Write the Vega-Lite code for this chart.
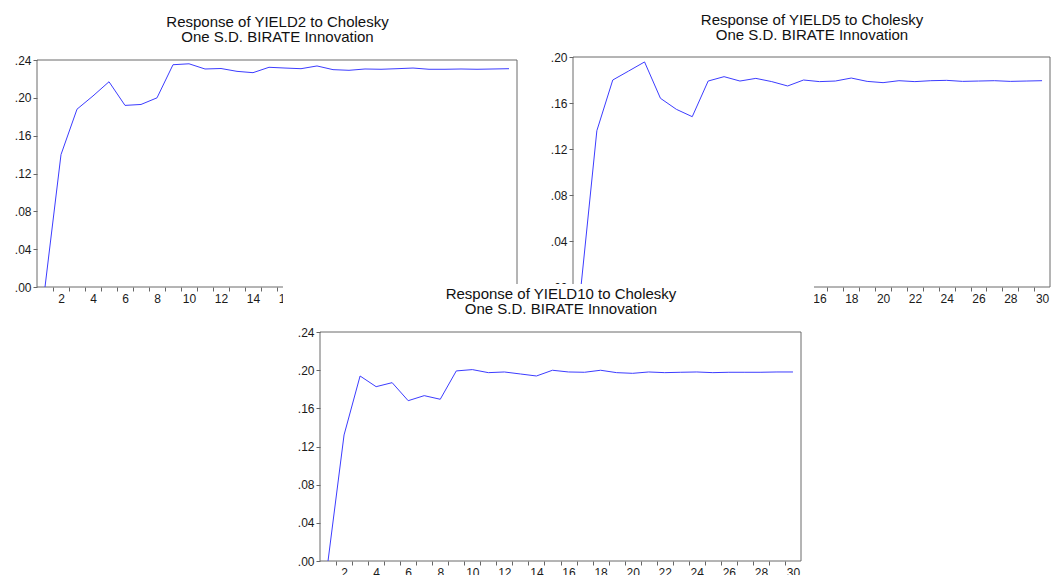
{
  "$schema": "https://vega.github.io/schema/vega-lite/v6.json",
  "width": 1051,
  "height": 575,
  "autosize": {"type": "none"},
  "padding": 0,
  "background": "white",
  "config": {
    "view": {"stroke": null},
    "font": "Liberation Sans",
    "axis": {
      "labelFont": "Liberation Sans",
      "labelFontSize": 12,
      "labelColor": "#1a1a1a",
      "tickColor": "#666666",
      "tickSize": 4,
      "tickWidth": 1,
      "domain": false,
      "grid": false,
      "labelPadding": 2,
      "labelFlush": false,
      "labelOverlap": false,
      "labelBound": false,
      "titleFont": "Liberation Sans",
      "titleFontSize": 15,
      "titleFontWeight": "normal",
      "titleColor": "#111111",
      "titleLineHeight": 15
    }
  },
  "datasets": {
    "yield2": [
      {"period": 1, "response": 0.0}, {"period": 2, "response": 0.140}, {"period": 3, "response": 0.188},
      {"period": 4, "response": 0.202}, {"period": 5, "response": 0.217}, {"period": 6, "response": 0.192},
      {"period": 7, "response": 0.193}, {"period": 8, "response": 0.200}, {"period": 9, "response": 0.235},
      {"period": 10, "response": 0.236}, {"period": 11, "response": 0.2305}, {"period": 12, "response": 0.231},
      {"period": 13, "response": 0.228}, {"period": 14, "response": 0.2266}, {"period": 15, "response": 0.2323},
      {"period": 16, "response": 0.2315}, {"period": 17, "response": 0.2308}, {"period": 18, "response": 0.2337},
      {"period": 19, "response": 0.2298}, {"period": 20, "response": 0.2291}, {"period": 21, "response": 0.2305},
      {"period": 22, "response": 0.2302}, {"period": 23, "response": 0.2308}, {"period": 24, "response": 0.2315},
      {"period": 25, "response": 0.2302}, {"period": 26, "response": 0.2302}, {"period": 27, "response": 0.2305},
      {"period": 28, "response": 0.2302}, {"period": 29, "response": 0.2305}, {"period": 30, "response": 0.2308}
    ],
    "yield5": [
      {"period": 1, "response": 0.0}, {"period": 2, "response": 0.1359}, {"period": 3, "response": 0.180},
      {"period": 4, "response": 0.1878}, {"period": 5, "response": 0.1957}, {"period": 6, "response": 0.1641},
      {"period": 7, "response": 0.1545}, {"period": 8, "response": 0.1481}, {"period": 9, "response": 0.1791},
      {"period": 10, "response": 0.1829}, {"period": 11, "response": 0.1791}, {"period": 12, "response": 0.1814},
      {"period": 13, "response": 0.1786}, {"period": 14, "response": 0.1748}, {"period": 15, "response": 0.180},
      {"period": 16, "response": 0.1786}, {"period": 17, "response": 0.1791}, {"period": 18, "response": 0.1817},
      {"period": 19, "response": 0.1788}, {"period": 20, "response": 0.1777}, {"period": 21, "response": 0.1794},
      {"period": 22, "response": 0.1786}, {"period": 23, "response": 0.1794}, {"period": 24, "response": 0.1797},
      {"period": 25, "response": 0.1788}, {"period": 26, "response": 0.1791}, {"period": 27, "response": 0.1794},
      {"period": 28, "response": 0.1788}, {"period": 29, "response": 0.1791}, {"period": 30, "response": 0.1794}
    ],
    "yield10": [
      {"period": 1, "response": 0.0}, {"period": 2, "response": 0.1321}, {"period": 3, "response": 0.1939},
      {"period": 4, "response": 0.1827}, {"period": 5, "response": 0.1869}, {"period": 6, "response": 0.1680},
      {"period": 7, "response": 0.1733}, {"period": 8, "response": 0.1695}, {"period": 9, "response": 0.1992},
      {"period": 10, "response": 0.2006}, {"period": 11, "response": 0.1974}, {"period": 12, "response": 0.1981},
      {"period": 13, "response": 0.1960}, {"period": 14, "response": 0.1939}, {"period": 15, "response": 0.1999},
      {"period": 16, "response": 0.1981}, {"period": 17, "response": 0.1978}, {"period": 18, "response": 0.1999},
      {"period": 19, "response": 0.1974}, {"period": 20, "response": 0.1967}, {"period": 21, "response": 0.1981},
      {"period": 22, "response": 0.1974}, {"period": 23, "response": 0.1978}, {"period": 24, "response": 0.1981},
      {"period": 25, "response": 0.1974}, {"period": 26, "response": 0.1978}, {"period": 27, "response": 0.1978},
      {"period": 28, "response": 0.1978}, {"period": 29, "response": 0.1981}, {"period": 30, "response": 0.1981}
    ]
  },
  "layer": [
    {
      "data": {"name": "yield2"},
      "layer": [
        {
          "data": {"values": [{}]},
          "mark": {"type": "rect", "filled": false, "color": "#6a6a6a", "strokeWidth": 1},
          "encoding": {
            "x": {"datum": 0.5, "type": "quantitative",
              "scale": {"domain": [0.5, 30.5], "range": [37, 517], "nice": false, "zero": false},
              "axis": {"orient": "top", "offset": -60, "labels": false, "ticks": false, "domain": false, "zindex": 0,
                "title": ["Response of YIELD2 to Cholesky", "One S.D. BIRATE Innovation"],
                "titleBaseline": "alphabetic", "titleY": -34}},
            "x2": {"datum": 30.5},
            "y": {"datum": 0, "type": "quantitative",
              "scale": {"domain": [0, 0.24], "range": [287, 60], "nice": false, "zero": false},
              "axis": null},
            "y2": {"datum": 0.24}
          }
        },
        {
          "mark": {"type": "line", "color": "#3c3cff", "strokeWidth": 1},
          "encoding": {
            "x": {"field": "period", "type": "quantitative",
              "scale": {"domain": [0.5, 30.5], "range": [37, 517], "nice": false, "zero": false},
              "axis": {"orient": "bottom", "offset": -288, "zindex": 0, "title": null,
                "values": [1.5, 2.5, 3.5, 4.5, 5.5, 6.5, 7.5, 8.5, 9.5, 10.5, 11.5, 12.5, 13.5, 14.5, 15.5, 16.5, 17.5, 18.5, 19.5, 20.5, 21.5, 22.5, 23.5, 24.5, 25.5, 26.5, 27.5, 28.5, 29.5],
                "labelExpr": "(datum.value + 0.5) % 2 == 0 && datum.value < 16 ? format(datum.value + 0.5, 'd') : ''",
                "labelOffset": 8}},
            "y": {"field": "response", "type": "quantitative",
              "scale": {"domain": [0, 0.24], "range": [287, 60], "nice": false, "zero": false},
              "axis": {"orient": "left", "offset": -37, "zindex": 0, "title": null,
                "values": [0, 0.04, 0.08, 0.12, 0.16, 0.2, 0.24],
                "labelExpr": "slice(format(datum.value, '.2f'), 1)"}}
          }
        }
      ],
      "resolve": {"axis": {"x": "independent", "y": "independent"}}
    },
    {
      "data": {"name": "yield5"},
      "layer": [
        {
          "data": {"values": [{}]},
          "mark": {"type": "rect", "filled": false, "color": "#6a6a6a", "strokeWidth": 1},
          "encoding": {
            "x": {"datum": 0.5, "type": "quantitative",
              "scale": {"domain": [0.5, 30.5], "range": [573, 1050], "nice": false, "zero": false},
              "axis": {"orient": "top", "offset": -57, "labels": false, "ticks": false, "domain": false, "zindex": 0,
                "title": ["Response of YIELD5 to Cholesky", "One S.D. BIRATE Innovation"],
                "titleBaseline": "alphabetic", "titleY": -33}},
            "x2": {"datum": 30.5},
            "y": {"datum": 0, "type": "quantitative",
              "scale": {"domain": [0, 0.2], "range": [287, 57], "nice": false, "zero": false},
              "axis": null},
            "y2": {"datum": 0.2}
          }
        },
        {
          "mark": {"type": "line", "color": "#3c3cff", "strokeWidth": 1},
          "encoding": {
            "x": {"field": "period", "type": "quantitative",
              "scale": {"domain": [0.5, 30.5], "range": [573, 1050], "nice": false, "zero": false},
              "axis": {"orient": "bottom", "offset": -288, "zindex": 0, "title": null,
                "values": [1.5, 2.5, 3.5, 4.5, 5.5, 6.5, 7.5, 8.5, 9.5, 10.5, 11.5, 12.5, 13.5, 14.5, 15.5, 16.5, 17.5, 18.5, 19.5, 20.5, 21.5, 22.5, 23.5, 24.5, 25.5, 26.5, 27.5, 28.5, 29.5],
                "labelExpr": "(datum.value + 0.5) % 2 == 0 && datum.value > 15 ? format(datum.value + 0.5, 'd') : ''",
                "labelOffset": 8}},
            "y": {"field": "response", "type": "quantitative",
              "scale": {"domain": [0, 0.2], "range": [287, 57], "nice": false, "zero": false},
              "axis": {"orient": "left", "offset": -573, "zindex": 0, "title": null,
                "values": [0, 0.04, 0.08, 0.12, 0.16, 0.2],
                "labelExpr": "slice(format(datum.value, '.2f'), 1)"}}
          }
        }
      ],
      "resolve": {"axis": {"x": "independent", "y": "independent"}}
    },
    {
      "data": {"name": "yield10"},
      "layer": [
        {
          "data": {"values": [{}]},
          "mark": {"type": "rect", "color": "white", "strokeWidth": 0},
          "encoding": {
            "x": {"datum": -1.81, "type": "quantitative",
              "scale": {"domain": [0.5, 30.5], "range": [320, 801], "nice": false, "zero": false},
              "axis": null},
            "x2": {"datum": 31.31},
            "y": {"datum": -0.03, "type": "quantitative",
              "scale": {"domain": [0, 0.24], "range": [561, 332], "nice": false, "zero": false},
              "axis": null},
            "y2": {"datum": 0.2903}
          }
        },
        {
          "data": {"values": [{}]},
          "mark": {"type": "rect", "filled": false, "color": "#6a6a6a", "strokeWidth": 1},
          "encoding": {
            "x": {"datum": 0.5, "type": "quantitative",
              "scale": {"domain": [0.5, 30.5], "range": [320, 801], "nice": false, "zero": false},
              "axis": {"orient": "top", "offset": -332, "labels": false, "ticks": false, "domain": false, "zindex": 1,
                "title": ["Response of YIELD10 to Cholesky", "One S.D. BIRATE Innovation"],
                "titleBaseline": "alphabetic", "titleY": -34}},
            "x2": {"datum": 30.5},
            "y": {"datum": 0, "type": "quantitative",
              "scale": {"domain": [0, 0.24], "range": [561, 332], "nice": false, "zero": false},
              "axis": null},
            "y2": {"datum": 0.24}
          }
        },
        {
          "mark": {"type": "line", "color": "#3c3cff", "strokeWidth": 1},
          "encoding": {
            "x": {"field": "period", "type": "quantitative",
              "scale": {"domain": [0.5, 30.5], "range": [320, 801], "nice": false, "zero": false},
              "axis": {"orient": "bottom", "offset": -14, "zindex": 1, "title": null,
                "values": [1.5, 2.5, 3.5, 4.5, 5.5, 6.5, 7.5, 8.5, 9.5, 10.5, 11.5, 12.5, 13.5, 14.5, 15.5, 16.5, 17.5, 18.5, 19.5, 20.5, 21.5, 22.5, 23.5, 24.5, 25.5, 26.5, 27.5, 28.5, 29.5],
                "labelExpr": "(datum.value + 0.5) % 2 == 0 ? format(datum.value + 0.5, 'd') : ''",
                "labelOffset": 8}},
            "y": {"field": "response", "type": "quantitative",
              "scale": {"domain": [0, 0.24], "range": [561, 332], "nice": false, "zero": false},
              "axis": {"orient": "left", "offset": -320, "zindex": 1, "title": null,
                "values": [0, 0.04, 0.08, 0.12, 0.16, 0.2, 0.24],
                "labelExpr": "slice(format(datum.value, '.2f'), 1)"}}
          }
        }
      ],
      "resolve": {"axis": {"x": "independent", "y": "independent"}}
    }
  ],
  "resolve": {
    "scale": {"x": "independent", "y": "independent"},
    "axis": {"x": "independent", "y": "independent"}
  }
}
